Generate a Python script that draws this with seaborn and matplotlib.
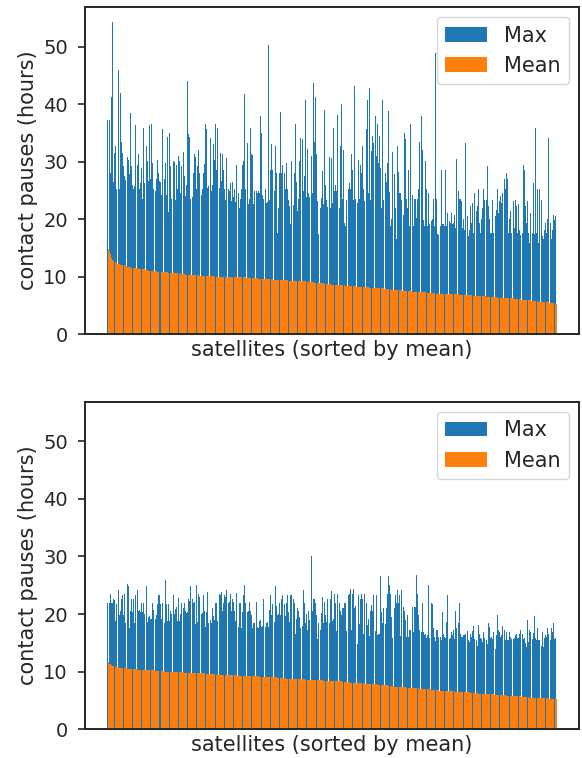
import pandas as pd
import seaborn as sns
import matplotlib.pyplot as plt

sns.set_theme(style="ticks")
plt.rcParams.update({
    "font.family": ["DejaVu Sans"],
    "axes.labelsize": 15,
    "xtick.labelsize": 14,
    "ytick.labelsize": 14,
    "legend.fontsize": 15,
    "axes.linewidth": 1.4,
    "ytick.major.size": 5.25,
    "ytick.major.width": 1.2,
    "ytick.major.pad": 7,
})

# contact pauses per satellite, sorted by mean (hours)
top_max = [
    37.2, 37.2, 28.0, 41.2, 54.2, 26.4, 31.5, 32.8, 25.2, 46.0,
    25.2, 42.0, 33.5, 31.5, 29.3, 27.5, 26.9, 30.9, 30.3, 27.8,
    38.5, 29.3, 25.9, 25.2, 25.8, 36.3, 29.5, 31.3, 25.2, 26.3,
    28.9, 23.6, 35.8, 26.3, 32.7, 30.1, 26.6, 36.3, 27.0, 36.6,
    29.8, 25.2, 25.0, 27.0, 30.3, 28.1, 26.6, 26.5, 24.3, 35.6,
    27.0, 29.8, 24.3, 34.3, 21.2, 35.0, 29.2, 23.6, 30.2, 29.9,
    23.4, 29.5, 25.2, 31.0, 30.1, 24.6, 29.3, 31.7, 27.5, 24.0,
    26.0, 44.0, 34.9, 34.3, 23.6, 23.8, 28.1, 31.3, 30.8, 25.2,
    29.3, 32.1, 28.1, 24.3, 25.2, 28.1, 29.6, 36.5, 35.7, 25.5,
    25.8, 34.2, 25.0, 26.0, 33.0, 30.3,
    36.5, 28.6, 35.8, 25.5, 31.5, 26.6, 31.4, 28.6,
    25.2, 23.4, 30.7, 25.2, 24.9, 26.3, 23.1, 26.4,
    23.9, 25.2, 23.0, 29.5, 24.6, 21.9, 23.6, 25.3,
    29.5, 30.2, 41.7, 25.2, 33.2, 22.6, 23.6, 35.8,
    31.4, 31.1, 22.7, 25.0, 25.0, 24.6, 25.0, 24.5,
    38.0, 35.0, 24.3, 23.6, 25.3, 22.8, 23.0, 50.3,
    23.4, 28.6, 33.0, 28.6, 24.9, 32.7, 28.0, 17.6,
    21.9, 28.0, 38.7, 28.1, 29.5, 28.0, 25.2, 29.8,
    25.2, 23.4, 22.3, 19.1, 30.1, 22.4, 28.1, 36.5,
    26.5, 21.4, 23.6, 30.2, 34.1, 33.9, 25.0, 27.5,
    40.8, 23.8, 32.2, 24.6, 23.8, 31.0, 24.6, 43.6,
    33.4, 41.2, 31.3, 23.1, 17.4, 22.0, 23.7, 28.4,
    22.6, 38.9, 25.9, 23.4, 22.1, 30.8,
    22.0, 30.7, 22.9, 35.8, 25.0, 26.0, 25.0, 38.2,
    22.0, 32.7, 40.1, 23.6, 32.1, 19.4, 18.9, 23.3,
    25.2, 26.3, 25.2, 31.4, 28.6, 23.4, 43.2, 23.6,
    22.9, 30.3, 23.6, 29.5, 28.1, 32.8, 25.2, 23.1,
    35.7, 40.8, 24.6, 42.8, 23.4, 31.8, 34.4, 33.3,
    37.9, 31.0, 36.5, 29.8, 34.4, 28.9, 22.0, 40.8,
    23.4, 28.0, 26.4, 29.7, 38.8, 24.7, 18.9, 20.0,
    31.7, 27.8, 22.0, 16.5, 32.8, 28.2, 24.5, 24.5,
    23.4, 20.8, 35.0, 33.9, 23.6, 22.0, 28.6, 18.9,
    36.5, 24.3, 18.8, 23.6, 23.6, 20.3, 23.6, 25.2,
    33.4, 38.0, 32.1, 19.8, 18.8, 30.1, 25.2, 18.8,
    24.6, 19.1, 19.7, 20.0, 23.6, 18.8, 48.9, 23.6,
    17.4, 17.2, 18.8, 28.6, 19.1, 19.1,
    18.8, 28.6, 18.8, 21.1, 19.7, 19.4, 21.1, 19.1,
    19.3, 20.8, 18.5, 30.5, 25.0, 23.6, 23.6, 23.1,
    18.5, 20.0, 18.2, 33.3, 20.5, 17.1, 18.2, 22.3,
    19.4, 22.9, 17.7, 24.6, 21.4, 22.3, 25.2, 19.4,
    17.7, 20.0, 22.0, 25.2, 23.4, 23.4, 29.2, 22.3,
    20.0, 17.7, 17.7, 23.4, 17.7, 20.5, 21.7, 25.2,
    21.1, 23.1, 24.0, 22.9, 24.6, 27.0, 25.2, 28.1,
    27.0, 17.7, 20.0, 21.4, 17.7, 23.1, 18.5, 23.4,
    22.3, 17.7, 22.6, 18.2, 17.2, 17.7, 29.5, 28.6,
    22.3, 19.4, 23.1, 17.7, 15.9, 21.1, 17.7, 26.3,
    17.4, 35.8, 17.7, 25.2, 15.9, 25.2, 23.4, 17.1,
    16.5, 18.2, 19.4, 17.7, 20.0, 34.1, 19.4, 16.5,
    18.2, 20.7, 19.8, 20.5,
]
top_mean = [
    14.8, 14.5, 13.9, 13.3, 13.0, 12.7, 12.6, 12.4, 12.3, 12.2,
    12.2, 12.1, 12.1, 12.0, 12.0, 11.9, 11.9, 11.8, 11.8, 11.7,
    11.7, 11.6, 11.6, 11.6, 11.5, 11.5, 11.5, 11.4, 11.4, 11.4,
    11.3, 11.3, 11.3, 11.2, 11.2, 11.2, 11.1, 11.1, 11.1, 11.0,
    11.0, 11.0, 11.0, 11.0, 10.9, 10.9, 10.9, 10.9, 10.9, 10.8,
    10.8, 10.8, 10.8, 10.8, 10.7, 10.7, 10.7, 10.7, 10.7, 10.6,
    10.6, 10.6, 10.6, 10.6, 10.5, 10.5, 10.5, 10.5, 10.5, 10.4,
    10.4, 10.4, 10.4, 10.4, 10.4, 10.3, 10.3, 10.3, 10.3, 10.3,
    10.3, 10.2, 10.2, 10.2, 10.2, 10.2, 10.2, 10.1, 10.1, 10.1,
    10.1, 10.1, 10.1, 10.1, 10.1, 10.0, 10.0, 10.0, 10.0, 10.0,
    10.0, 10.0, 10.0, 10.0, 10.0, 10.0, 10.0, 10.0, 10.0, 9.9,
    9.9, 9.9, 9.9, 9.9, 9.9, 9.9, 9.9, 9.9, 9.9, 9.9,
    9.9, 9.9, 9.9, 9.8, 9.8, 9.8, 9.8, 9.8, 9.8, 9.8,
    9.8, 9.8, 9.8, 9.8, 9.7, 9.7, 9.7, 9.7, 9.7, 9.7,
    9.7, 9.6, 9.6, 9.6, 9.6, 9.6, 9.6, 9.5, 9.5, 9.5,
    9.5, 9.5, 9.5, 9.4, 9.4, 9.4, 9.4, 9.4, 9.4, 9.4,
    9.4, 9.3, 9.3, 9.3, 9.3, 9.3, 9.3, 9.3, 9.3, 9.3,
    9.2, 9.2, 9.2, 9.2, 9.2, 9.2, 9.2, 9.1, 9.1, 9.1,
    9.1, 9.1, 9.1, 9.1, 9.0, 9.0, 9.0, 9.0, 9.0, 9.0,
    8.9, 8.9, 8.9, 8.8, 8.8, 8.8, 8.7, 8.7, 8.7, 8.6,
    8.6, 8.6, 8.6, 8.6, 8.6, 8.5, 8.5, 8.5, 8.5, 8.5,
    8.5, 8.4, 8.4, 8.4, 8.4, 8.4, 8.4, 8.4, 8.4, 8.4,
    8.4, 8.3, 8.3, 8.3, 8.3, 8.3, 8.3, 8.2, 8.2, 8.2,
    8.2, 8.2, 8.2, 8.1, 8.1, 8.1, 8.1, 8.1, 8.1, 8.0,
    8.0, 8.0, 8.0, 8.0, 8.0, 8.0, 7.9, 7.9, 7.9, 7.9,
    7.9, 7.9, 7.8, 7.8, 7.8, 7.8, 7.8, 7.7, 7.7, 7.7,
    7.7, 7.6, 7.6, 7.6, 7.6, 7.6, 7.5, 7.5, 7.5, 7.5,
    7.5, 7.4, 7.4, 7.4, 7.4, 7.4, 7.4, 7.3, 7.3, 7.3,
    7.3, 7.3, 7.3, 7.3, 7.2, 7.2, 7.2, 7.2, 7.2, 7.2,
    7.2, 7.2, 7.1, 7.1, 7.1, 7.1, 7.1, 7.1, 7.1, 7.1,
    7.1, 7.1, 7.1, 7.1, 7.1, 7.0, 7.0, 7.0, 7.0, 7.0,
    7.0, 7.0, 7.0, 6.9, 6.9, 6.9, 6.9, 6.9, 6.9, 6.9,
    6.8, 6.8, 6.8, 6.8, 6.8, 6.7, 6.7, 6.7, 6.7, 6.7,
    6.7, 6.6, 6.6, 6.6, 6.6, 6.6, 6.6, 6.5, 6.5, 6.5,
    6.5, 6.5, 6.5, 6.5, 6.5, 6.5, 6.5, 6.4, 6.4, 6.4,
    6.4, 6.4, 6.4, 6.4, 6.4, 6.3, 6.3, 6.3, 6.3, 6.3,
    6.3, 6.3, 6.2, 6.2, 6.2, 6.1, 6.1, 6.1, 6.0, 6.0,
    6.0, 6.0, 5.9, 5.9, 5.9, 5.9, 5.9, 5.8, 5.8, 5.8,
    5.8, 5.8, 5.8, 5.7, 5.7, 5.7, 5.7, 5.7, 5.6, 5.6,
    5.6, 5.6, 5.6, 5.5, 5.5, 5.5, 5.5, 5.4, 5.3, 5.2,
]
bottom_max = [
    22.0, 22.0, 23.5, 22.0, 21.9, 22.6, 22.4, 18.8,
    21.7, 24.2, 19.8, 20.5, 22.6, 23.3, 19.8, 23.4,
    18.4, 25.2, 24.9, 17.6, 20.5, 22.6, 20.4, 22.6,
    18.5, 23.3, 24.2, 20.6, 20.7, 20.4, 21.9, 20.4,
    21.9, 20.0, 24.9, 18.6, 19.5, 19.7, 19.1, 19.1,
    21.9, 20.7, 19.1, 19.8, 21.7, 23.3, 23.3, 21.7,
    19.1, 21.9, 18.5, 25.9, 21.7, 18.8, 21.7, 18.8,
    20.6, 20.0, 23.3, 20.0, 20.8, 21.3, 18.8, 22.8,
    18.8, 20.0, 22.0, 21.0, 22.0, 20.6, 20.1, 20.4,
    22.6, 22.3, 24.9, 22.6, 22.0, 22.1, 18.3, 25.0,
    18.7, 23.5, 23.0, 20.0, 20.1, 23.3, 20.6, 17.8,
    20.4, 23.9, 18.4, 19.0, 18.4, 21.0, 19.7, 19.0,
    22.0, 21.9, 18.8, 23.5, 23.3, 23.9, 20.6, 22.0,
    23.3, 22.9, 24.2, 21.9, 22.1, 23.5, 20.5, 22.7,
    22.1, 20.6, 18.8, 23.6, 17.7, 21.9, 22.0, 17.5,
    20.4, 23.3, 25.0, 21.9, 20.4, 20.6, 22.1, 20.6,
    19.8, 17.5, 18.4, 18.4, 22.1, 17.7, 17.5, 18.8,
    19.0, 17.7, 17.9, 22.6, 17.7, 18.4, 18.7, 17.7,
    20.7, 23.3, 19.8, 21.7, 18.7, 24.9, 21.4, 19.8,
    20.0, 21.9, 19.8, 22.6, 23.3, 21.7, 19.7, 22.0,
    23.3, 20.4, 18.7, 23.3, 23.3, 22.6, 21.9, 16.5,
    19.2, 21.0, 20.6, 19.5, 17.5, 17.9, 24.2, 21.9,
    18.4, 20.0, 17.3, 20.6, 19.0, 30.1, 20.5, 22.6,
    22.6, 22.0, 19.8, 15.6, 18.4, 17.3, 20.2, 22.9,
    18.4, 22.1, 19.8, 18.7, 22.7, 18.4,
    22.6, 24.0, 18.8, 19.1, 23.5, 21.9, 17.1, 23.5,
    21.9, 20.5, 19.8, 21.0, 21.0, 21.9, 21.9, 17.1,
    23.3, 23.5, 24.3, 17.3, 23.5, 24.3, 21.0, 21.4,
    14.8, 23.3, 18.3, 22.6, 23.5, 22.7, 16.6, 23.5,
    21.9, 18.1, 19.1, 16.2, 20.5, 21.6, 20.5, 23.3,
    17.1, 23.3, 16.3, 16.5, 16.5, 26.6, 20.4, 18.4,
    21.0, 18.3, 21.0, 23.5, 26.6, 25.0, 23.5, 19.5,
    15.8, 21.0, 23.3, 21.9, 24.2, 21.9, 23.3, 16.2,
    24.2, 21.3, 20.6, 19.0, 16.1, 19.8, 16.1, 17.3,
    17.2, 21.3, 16.9, 21.3, 21.2, 26.8, 23.5, 19.8,
    17.2, 16.9, 21.9, 16.9, 16.3, 16.6, 15.8, 16.3,
    25.0, 15.8, 21.9, 21.7, 17.5, 16.1, 15.4, 17.2,
    17.3, 16.1, 16.0, 15.5, 20.4, 16.6, 16.1, 15.8,
    18.7, 23.3, 15.7, 15.8, 16.8, 16.3, 17.2, 15.7,
    20.6, 17.5, 18.4, 22.0, 16.6, 16.1, 16.1, 16.3,
    16.3, 16.5, 17.0, 15.5, 15.2, 16.5, 16.1, 17.0,
    17.9, 15.7, 15.5, 14.5, 18.1, 16.6, 15.8, 15.7,
    15.2, 16.9, 15.8, 15.5, 14.8, 18.5, 17.7, 15.9,
    16.1, 15.7, 16.9, 14.0, 16.3, 19.8, 17.2, 16.9,
    16.1, 16.3, 17.9, 17.2, 15.5, 16.9, 15.5, 15.5,
    16.9, 16.1, 15.7, 15.7, 15.9, 16.3, 16.5, 15.8,
    15.8, 16.5, 17.3, 16.5, 15.7, 15.8, 14.9, 14.3,
    19.0, 15.2, 17.3, 16.9, 15.7, 16.7, 19.7, 15.8,
    15.5, 17.5, 15.5, 15.5, 14.5, 16.9, 14.2, 15.8,
    16.3, 16.1, 17.5, 16.6, 15.5, 17.5, 16.9, 18.4,
    15.7, 15.8,
]
bottom_mean = [
    11.6, 11.4, 11.4, 11.1, 11.0, 11.0, 10.8, 10.8, 10.8, 10.8,
    10.7, 10.7, 10.6, 10.6, 10.6, 10.6, 10.6, 10.5, 10.5, 10.5,
    10.5, 10.4, 10.4, 10.4, 10.4, 10.4, 10.3, 10.3, 10.3, 10.3,
    10.3, 10.3, 10.3, 10.3, 10.2, 10.2, 10.2, 10.2, 10.2, 10.2,
    10.2, 10.2, 10.1, 10.1, 10.1, 10.1, 10.1, 10.1, 10.1, 10.1,
    10.1, 10.0, 10.0, 10.0, 10.0, 10.0, 10.0, 10.0, 10.0, 9.9,
    9.9, 9.9, 9.9, 9.9, 9.9, 9.9, 9.9, 9.9, 9.8, 9.8,
    9.8, 9.8, 9.8, 9.8, 9.8, 9.8, 9.8, 9.8, 9.8, 9.7,
    9.7, 9.7, 9.7, 9.7, 9.7, 9.7, 9.7, 9.6, 9.6, 9.6,
    9.6, 9.6, 9.6, 9.6, 9.6, 9.6, 9.5, 9.5, 9.5, 9.5,
    9.5, 9.5, 9.5, 9.5, 9.5, 9.4, 9.4, 9.4, 9.4, 9.4,
    9.4, 9.4, 9.4, 9.4, 9.3, 9.3, 9.3, 9.3, 9.3, 9.3,
    9.3, 9.3, 9.3, 9.3, 9.3, 9.2, 9.2, 9.2, 9.2, 9.2,
    9.2, 9.2, 9.2, 9.2, 9.2, 9.1, 9.1, 9.1, 9.1, 9.1,
    9.1, 9.1, 9.1, 9.0, 9.0, 9.0, 9.0, 9.0, 9.0, 9.0,
    9.0, 8.9, 8.9, 8.9, 8.9, 8.9, 8.9, 8.9, 8.9, 8.8,
    8.8, 8.8, 8.8, 8.8, 8.8, 8.8, 8.8, 8.7, 8.7, 8.7,
    8.7, 8.7, 8.7, 8.7, 8.7, 8.7, 8.6, 8.6, 8.6, 8.6,
    8.6, 8.6, 8.6, 8.5, 8.5, 8.5, 8.5, 8.5, 8.5, 8.5,
    8.5, 8.5, 8.4, 8.4, 8.4, 8.4, 8.4, 8.4, 8.4, 8.4,
    8.4, 8.3, 8.3, 8.3, 8.3, 8.3, 8.3, 8.3, 8.3, 8.2,
    8.2, 8.2, 8.2, 8.2, 8.2, 8.2, 8.1, 8.1, 8.1, 8.1,
    8.1, 8.1, 8.0, 8.0, 8.0, 8.0, 8.0, 8.0, 7.9, 7.9,
    7.9, 7.9, 7.9, 7.9, 7.8, 7.8, 7.8, 7.8, 7.8, 7.8,
    7.7, 7.7, 7.7, 7.7, 7.7, 7.6, 7.6, 7.6, 7.6, 7.6,
    7.5, 7.5, 7.5, 7.5, 7.5, 7.4, 7.4, 7.4, 7.4, 7.4,
    7.3, 7.3, 7.3, 7.3, 7.3, 7.3, 7.2, 7.2, 7.2, 7.2,
    7.2, 7.1, 7.1, 7.1, 7.1, 7.1, 7.1, 7.0, 7.0, 7.0,
    7.0, 7.0, 6.9, 6.9, 6.9, 6.9, 6.9, 6.9, 6.8, 6.8,
    6.8, 6.8, 6.8, 6.8, 6.8, 6.7, 6.7, 6.7, 6.7, 6.7,
    6.7, 6.7, 6.6, 6.6, 6.6, 6.6, 6.6, 6.6, 6.6, 6.5,
    6.5, 6.5, 6.5, 6.5, 6.5, 6.5, 6.4, 6.4, 6.4, 6.4,
    6.4, 6.4, 6.4, 6.3, 6.3, 6.3, 6.3, 6.3, 6.3, 6.3,
    6.2, 6.2, 6.2, 6.2, 6.2, 6.2, 6.2, 6.1, 6.1, 6.1,
    6.1, 6.1, 6.1, 6.1, 6.0, 6.0, 6.0, 6.0, 5.9, 5.9,
    5.9, 5.9, 5.9, 5.9, 5.9, 5.8, 5.8, 5.8, 5.8, 5.8,
    5.8, 5.8, 5.7, 5.7, 5.7, 5.7, 5.7, 5.7, 5.6, 5.6,
    5.6, 5.6, 5.6, 5.6, 5.6, 5.5, 5.5, 5.5, 5.5, 5.5,
    5.5, 5.5, 5.5, 5.5, 5.4, 5.4, 5.4, 5.4, 5.4, 5.4,
    5.4, 5.4, 5.3, 5.3, 5.3, 5.3, 5.3, 5.2, 5.2, 5.2,
]

panels = [(top_max, top_mean), (bottom_max, bottom_mean)]
for mx, mn in panels:
    assert len(mx) == len(mn), (len(mx), len(mn))

colors = ["#1f77b4", "#ff7f0e"]
bar_w = 0.89    # width of each bar, in satellite slots
shift = 0.4     # mean bars sit a little to the right of the max bars

fig, axes = plt.subplots(2, 1, figsize=(5.82, 7.58), dpi=100, sharey=True)

for ax, (mx, mn) in zip(axes, panels):
    n = len(mx)
    sat = pd.Series(range(n), dtype=float)
    common = dict(native_scale=True, width=bar_w, errorbar=None, saturation=1,
                  linewidth=0, edgecolor="none", ax=ax)
    sns.barplot(x=sat, y=mx, color=colors[0], label="Max", **common)
    sns.barplot(x=sat + shift, y=mn, color=colors[1], label="Mean", **common)

    lo = -bar_w / 2
    hi = (n - 1) + shift + bar_w / 2
    pad = 0.05 * (hi - lo)
    ax.set_xlim(lo - pad, hi + pad)
    ax.set_xticks([])
    ax.set_xlabel("satellites (sorted by mean)")
    ax.set_ylabel("contact pauses (hours)")
    ax.tick_params(axis="y", labelleft=True)
    ax.legend(loc="upper right")

plt.subplots_adjust(left=0.146, right=0.995, top=0.991, bottom=0.038, hspace=0.205)
fig.savefig("out.png", dpi=100)
